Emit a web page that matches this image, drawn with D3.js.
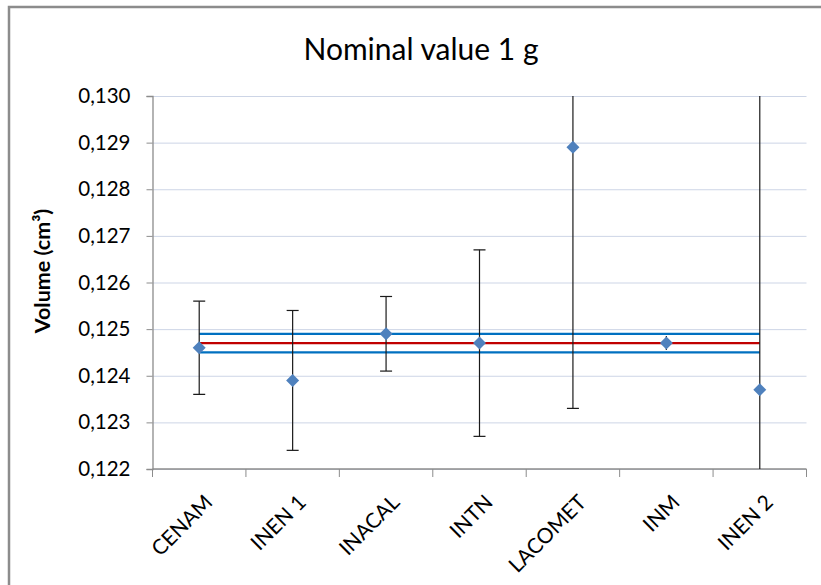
<!DOCTYPE html>
<html>
<head>
<meta charset="utf-8">
<script src="https://cdn.jsdelivr.net/npm/d3@7"></script>
<style>
  html, body { margin: 0; padding: 0; background: #fff; overflow: hidden; }
  svg { display: block; font-family: Lato, "Open Sans", sans-serif; }
</style>
</head>
<body>
<svg id="chart" width="821" height="585"></svg>
<script>
// ---- data ----
const categories = ["CENAM", "INEN 1", "INACAL", "INTN", "LACOMET", "INM", "INEN 2"];
const values     = [0.1246, 0.1239, 0.1249, 0.1247, 0.1289, 0.1247, 0.1237];
const uncertainty = [0.0010, 0.0015, 0.0008, 0.0020, 0.0056, 0.00015, 0.0100];
const refValue = [0.1247];
const refUpper = [0.1249];
const refLower = [0.1245];
const yTicks = [0.122, 0.123, 0.124, 0.125, 0.126, 0.127, 0.128, 0.129, 0.130];
const titleText = "Nominal value 1 g";
const yLabel = "Volume (cm³)";

// ---- layout ----
const svg = d3.select("#chart");
const plot = { left: 152.5, right: 806.5, top: 96, bottom: 469 };

const x = d3.scaleBand().domain(categories).range([plot.left, plot.right]).paddingInner(0).paddingOuter(0);
const cx = d => x(d) + x.bandwidth() / 2;
const y = d3.scaleLinear().domain([0.122, 0.130]).range([plot.bottom, plot.top]);
const fmt = v => d3.format(".3f")(v).replace(".", ",");

// chart frame (left and top edges visible; the rest lies outside the window)
svg.append("path").attr("d", "M9,600V7H830")
  .attr("fill", "none").attr("stroke", "#8c8c8c").attr("stroke-width", 2.5);

// title
svg.append("text").attr("x", 421).attr("y", 60).attr("text-anchor", "middle")
  .attr("font-size", 30).attr("fill", "#000").text(titleText);

// gridlines
svg.append("g").selectAll("line").data(yTicks).join("line")
  .attr("x1", plot.left).attr("x2", plot.right)
  .attr("y1", d => y(d) + 0.5).attr("y2", d => y(d) + 0.5)
  .attr("stroke", "#CDD5E6").attr("stroke-width", 1);

// y axis
const yAxis = svg.append("g").attr("transform", `translate(${plot.left},0)`)
  .call(d3.axisLeft(y).tickValues(yTicks).tickFormat(fmt).tickSize(6).tickPadding(16));
yAxis.select(".domain").attr("stroke", "#8c8c8c").attr("stroke-width", 1.3);
yAxis.selectAll(".tick line").attr("stroke", "#8c8c8c");
yAxis.selectAll(".tick text").attr("font-size", 20.5).attr("fill", "#000")
  .attr("font-family", "Lato, sans-serif");

// x axis
const xAxisG = svg.append("g").attr("transform", `translate(0,${plot.bottom})`);
xAxisG.append("line").attr("x1", plot.left).attr("x2", plot.right).attr("y1", 0).attr("y2", 0)
  .attr("stroke", "#8c8c8c").attr("stroke-width", 1.3);
const boundaries = categories.map(c => x(c)).concat([plot.right]);
xAxisG.selectAll("line.tk").data(boundaries).join("line").attr("class", "tk")
  .attr("x1", d => d).attr("x2", d => d).attr("y1", 0).attr("y2", 8)
  .attr("stroke", "#8c8c8c");
svg.append("g").selectAll("text").data(categories).join("text")
  .attr("transform", d => `translate(${cx(d) + 4},${plot.bottom + 24}) rotate(-45)`)
  .attr("text-anchor", "end").attr("dy", "0.72em")
  .attr("font-size", 21).attr("fill", "#000").text(d => d);

// y label
svg.append("text").attr("transform", `translate(50,${271}) rotate(-90)`)
  .attr("text-anchor", "middle").attr("font-size", 21.5).attr("font-weight", "bold")
  .attr("fill", "#000").text(yLabel);

// clip
svg.append("clipPath").attr("id", "clip").append("rect")
  .attr("x", plot.left).attr("y", plot.top).attr("width", plot.right - plot.left)
  .attr("height", plot.bottom - plot.top);

const xFirst = cx(categories[0]), xLast = cx(categories[categories.length - 1]);
// reference lines
const refs = [
  { v: refUpper[0], c: "#0070C0" },
  { v: refLower[0], c: "#0070C0" },
  { v: refValue[0], c: "#C00000" }
];
svg.append("g").selectAll("line").data(refs).join("line")
  .attr("x1", xFirst).attr("x2", xLast)
  .attr("y1", d => y(d.v)).attr("y2", d => y(d.v))
  .attr("stroke", d => d.c).attr("stroke-width", 2.2);

// error bars
const eb = svg.append("g").attr("clip-path", "url(#clip)");
const data = categories.map((c, i) => ({ c, v: values[i], u: uncertainty[i] }));
eb.selectAll("line.v").data(data).join("line").attr("class", "v")
  .attr("x1", d => cx(d.c)).attr("x2", d => cx(d.c))
  .attr("y1", d => y(d.v + d.u)).attr("y2", d => y(d.v - d.u))
  .attr("stroke", "#1a1a1a").attr("stroke-width", 1.2);
const capped = data.filter(d => d.u >= 0.0005);
["top", "bot"].forEach(k => {
  eb.selectAll("line." + k).data(capped).join("line").attr("class", k)
    .attr("x1", d => cx(d.c) - 6).attr("x2", d => cx(d.c) + 6)
    .attr("y1", d => y(k === "top" ? d.v + d.u : d.v - d.u))
    .attr("y2", d => y(k === "top" ? d.v + d.u : d.v - d.u))
    .attr("stroke", "#1a1a1a").attr("stroke-width", 1.2);
});

// markers
svg.append("g").selectAll("path").data(data).join("path")
  .attr("transform", d => `translate(${cx(d.c)},${y(d.v)})`)
  .attr("d", "M0,-6.5L6.5,0L0,6.5L-6.5,0Z")
  .attr("fill", "#4F81BD");
</script>
</body>
</html>
